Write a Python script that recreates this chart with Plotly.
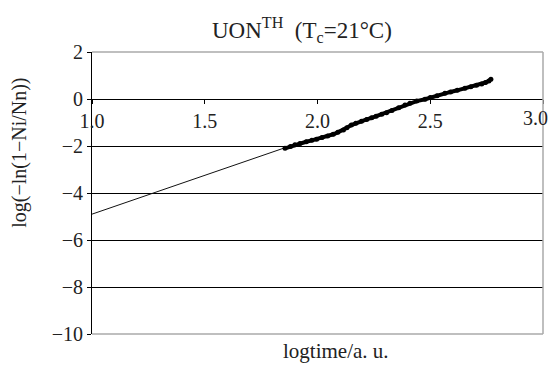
import plotly.graph_objects as go

# Measured data (log time vs log(-ln(1-Ni/Nn)))
log_time = [1.856, 1.88, 1.90, 1.922, 1.95, 1.975, 1.996, 2.02, 2.045, 2.07, 2.09, 2.115,
            2.13, 2.15, 2.17, 2.195, 2.218, 2.24, 2.26, 2.285, 2.306, 2.33, 2.36, 2.388,
            2.41, 2.44, 2.477, 2.50, 2.53, 2.565, 2.59, 2.62, 2.654, 2.68, 2.705, 2.728,
            2.745, 2.76, 2.769]
log_ln = [-2.10, -2.02, -1.95, -1.89, -1.82, -1.76, -1.71, -1.64, -1.57, -1.50, -1.42, -1.32,
          -1.22, -1.11, -1.03, -0.95, -0.87, -0.80, -0.73, -0.65, -0.58, -0.49, -0.37, -0.26,
          -0.18, -0.09, -0.01, 0.06, 0.14, 0.24, 0.30, 0.37, 0.46, 0.52, 0.58, 0.64,
          0.70, 0.77, 0.84]

# Linear trend line (visible part, extrapolated to the left)
fit_x = [1.0, 1.86]
fit_y = [-4.9, -2.06]

x_ticks = [1.0, 1.5, 2.0, 2.5, 3.0]
y_ticks = [2, 0, -2, -4, -6, -8, -10]
x_range = [1.0, 3.0]
y_range = [-10, 2]

font = "Liberation Serif, Times New Roman, serif"
txt = "#222222"

fig = go.Figure()
fig.add_trace(go.Scatter(x=fit_x, y=fit_y, mode="lines",
                         line=dict(color="#111111", width=1), showlegend=False))
fig.add_trace(go.Scatter(x=log_time, y=log_ln, mode="lines+markers",
                         line=dict(color="#000000", width=4),
                         marker=dict(color="#000000", size=5), showlegend=False))

x0_pos = (0 - y_range[0]) / (y_range[1] - y_range[0])
x_labels = [f"{v:.1f}" for v in x_ticks]

fig.update_layout(
    width=554, height=376,
    margin=dict(l=92, r=11, t=52, b=42),
    paper_bgcolor="white", plot_bgcolor="white",
    font=dict(family=font, size=20, color=txt),
    title=dict(text="UON<sup>TH</sup>  (T<sub>c</sub>=21°C)", x=0.545, xanchor="center",
               y=0.92, yanchor="middle", font=dict(family=font, size=23, color=txt)),
    xaxis=dict(range=x_range, tickvals=x_ticks, ticktext=x_labels[:-1] + [""],
               showgrid=False, zeroline=False, showline=True, linecolor="#000000",
               linewidth=1, ticks="outside", ticklen=4, tickcolor="#000000",
               anchor="free", position=x0_pos, automargin=False,
               tickfont=dict(family=font, size=20, color=txt)),
    yaxis=dict(range=y_range, tickvals=y_ticks, showgrid=True, gridcolor="#000000",
               gridwidth=1, zeroline=False, showline=True, linecolor="#000000",
               linewidth=1, ticks="outside", ticklen=4, tickcolor="#000000",
               automargin=False,
               tickfont=dict(family=font, size=20, color=txt)),
    annotations=[
        dict(text=x_labels[-1], x=x_ticks[-1], xref="x", y=0, yref="y",
             xanchor="right", yanchor="top", xshift=7, yshift=-6, showarrow=False,
             font=dict(family=font, size=20, color=txt)),
        dict(text="logtime/a. u.", x=0.542, xref="paper", y=-0.01, yref="paper",
             xanchor="center", yanchor="top", showarrow=False,
             font=dict(family=font, size=21, color=txt)),
        dict(text="log(−ln(1−Ni/Nn))", x=-0.16, xref="paper", y=0.642, yref="paper",
             xanchor="center", yanchor="middle", textangle=-90, showarrow=False,
             font=dict(family=font, size=20, color=txt)),
    ],
    shapes=[
        dict(type="line", xref="paper", yref="paper", x0=0, x1=1, y0=1, y1=1,
             line=dict(color="#aaaaaa", width=1.5), layer="above"),
        dict(type="line", xref="paper", yref="paper", x0=1, x1=1, y0=0, y1=1,
             line=dict(color="#aaaaaa", width=1.5), layer="above"),
        dict(type="line", xref="paper", yref="paper", x0=0, x1=1, y0=0, y1=0,
             line=dict(color="#aaaaaa", width=1.5), layer="above"),
    ],
)

fig.write_html("out.html", config={"displayModeBar": False},
               post_script="document.body.style.margin='0px';")
